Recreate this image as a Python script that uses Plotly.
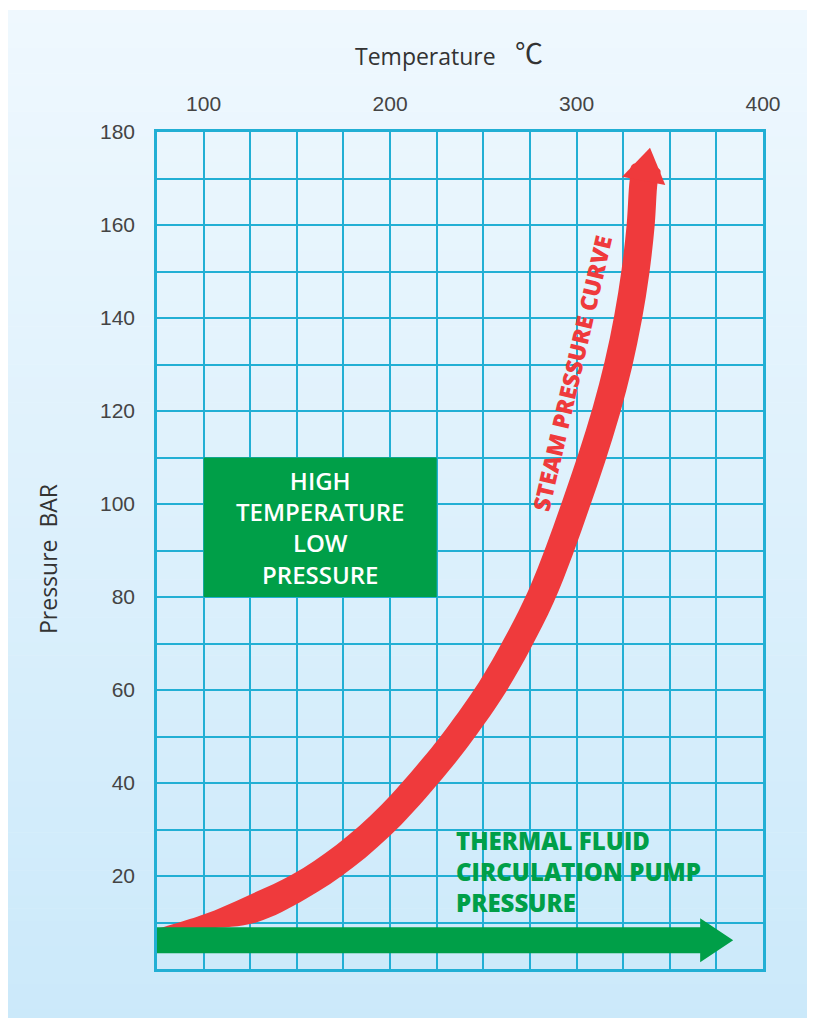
import math
import plotly.graph_objects as go

# ---------------- data ----------------
temp_ticks = [100, 200, 300, 400]
pressure_ticks = [20, 40, 60, 80, 100, 120, 140, 160, 180]

# steam pressure curve (centre line), temperature in C, pressure in bar
steam_temp = [75, 100.7, 126, 151.2, 175.8, 200.5, 225.2, 236.4, 253.9, 268.3, 280.8,
              290.8, 299.7, 308.2, 315.9, 322.4, 327.6, 331.6, 334.4, 336.0]
steam_pressure = [8.6, 10.2, 12.9, 17.7, 24.3, 33.1, 44.3, 50, 60, 70, 80,
                  90, 100, 110, 120, 130, 140, 150, 160, 169.5]
steam_tip = (339.4, 176.6)

# thermal fluid circulation pump pressure (horizontal arrow)
pump_temp = [75, 384]
pump_pressure = 6.2

# high temperature / low pressure region
region_temp = [100, 225]
region_pressure = [80, 110]

region_lines = ["HIGH", "TEMPERATURE", "LOW", "PRESSURE"]
pump_lines = ["THERMAL FLUID", "CIRCULATION PUMP", "PRESSURE"]

# ---------------- layout geometry (page px -> figure px) ----------------
OFF = 8  # default body margin of the html page
FW, FH = 815 - 2 * OFF, 1026 - 2 * OFF
L, R, T, B = 157 - OFF, 763 - OFF, 132 - OFF, 969 - OFF
PW, PH = R - L, B - T
X0, X1 = 75, 400
Y0, Y1 = 0, 180

GRID = "#22afd4"
RED = "#ef3a3c"
GREEN = "#009f48"
TXT = "#333333"


def tx(t):
    return L + (t - X0) / (X1 - X0) * PW


def ty(p):
    return B - (p - Y0) / (Y1 - Y0) * PH


def itx(px):
    return X0 + (px - L) / PW * (X1 - X0)


def ity(py):
    return Y0 + (B - py) / PH * (Y1 - Y0)


def xp(page_x):
    return (page_x - OFF - L) / PW


def yp(page_y):
    return (B - (page_y - OFF)) / PH


# ---------------- steam band polygon ----------------
P = [(tx(t), ty(p)) for t, p in zip(steam_temp, steam_pressure)]
bx, by = P[-1]
tpx, tpy = tx(steam_tip[0]), ty(steam_tip[1])
dx, dy = tpx - bx, tpy - by
ln = math.hypot(dx, dy)
ux, uy = dx / ln, dy / ln
# extend the shaft a little inside the arrow head so its end corners stay hidden
C = P + [(bx + ux * 14, by + uy * 14)]
n = len(C)
s = [0.0]
for i in range(1, n):
    s.append(s[-1] + math.hypot(C[i][0] - C[i - 1][0], C[i][1] - C[i - 1][1]))
BAND = 28
upper, lower = [], []
for i in range(n):
    a = C[max(i - 1, 0)]
    b = C[min(i + 1, n - 1)]
    ddx, ddy = b[0] - a[0], b[1] - a[1]
    dl = math.hypot(ddx, ddy)
    nx, ny = ddy / dl, -ddx / dl
    w = BAND * min(1.0, s[i] / 95.0) / 2
    upper.append((C[i][0] + nx * w, C[i][1] + ny * w))
    lower.append((C[i][0] - nx * w, C[i][1] - ny * w))
poly = upper + lower[::-1] + [upper[0]]
band_x = [itx(q[0]) for q in poly]
band_y = [ity(q[1]) for q in poly]

# arrow head
nx, ny = -uy, ux
hw = 22
head = [(bx + nx * hw, by + ny * hw), (tpx, tpy), (bx - nx * hw, by - ny * hw), (bx + nx * hw, by + ny * hw)]
head_x = [itx(q[0]) for q in head]
head_y = [ity(q[1]) for q in head]

# ---------------- pump arrow polygon ----------------
gy = ty(pump_pressure)
gx0 = tx(pump_temp[0])
gtip = tx(pump_temp[1])
hl, sh, hh = 33, 13, 22
g = [(gx0, gy - sh), (gtip - hl, gy - sh), (gtip - hl, gy - hh), (gtip, gy),
     (gtip - hl, gy + hh), (gtip - hl, gy + sh), (gx0, gy + sh), (gx0, gy - sh)]
green_x = [itx(q[0]) for q in g]
green_y = [ity(q[1]) for q in g]

fig = go.Figure()
fig.add_trace(go.Scatter(x=band_x, y=band_y, mode="lines", fill="toself", fillcolor=RED,
                         line=dict(width=0, color=RED, shape="spline", smoothing=1.0),
                         hoverinfo="skip", showlegend=False))
fig.add_trace(go.Scatter(x=head_x, y=head_y, mode="lines", fill="toself", fillcolor=RED,
                         line=dict(width=0, color=RED), hoverinfo="skip", showlegend=False))
fig.add_trace(go.Scatter(x=green_x, y=green_y, mode="lines", fill="toself", fillcolor=GREEN,
                         line=dict(width=0, color=GREEN), hoverinfo="skip", showlegend=False))

# ---------------- background gradient ----------------
shapes = []
top_c = (239, 248, 254)
bot_c = (203, 233, 250)
gx_l, gx_r, gy_t, gy_b = 7, 812, 10, 1022  # page px
nb = 80
for i in range(nb):
    f = (i + 0.5) / nb
    c = tuple(round(top_c[k] + (bot_c[k] - top_c[k]) * f) for k in range(3))
    y_a = gy_t + (gy_b - gy_t) * i / nb
    y_b = gy_t + (gy_b - gy_t) * (i + 1) / nb + 0.6
    shapes.append(dict(type="rect", xref="paper", yref="paper", layer="below",
                       x0=xp(gx_l), x1=xp(gx_r), y0=yp(y_b), y1=yp(y_a),
                       fillcolor="rgb(%d,%d,%d)" % c, line=dict(width=0)))

shapes.append(dict(type="rect", xref="x", yref="y", layer="above",
                   x0=region_temp[0], x1=region_temp[1], y0=region_pressure[0], y1=region_pressure[1],
                   fillcolor=GREEN, line=dict(width=0)))

annotations = [
    dict(xref="x", yref="paper", x=(region_temp[0] + region_temp[1]) / 2,
         y=yp(527.5), xanchor="center", yanchor="middle",
         text="<br>".join(region_lines), showarrow=False, align="center",
         font=dict(family="Open Sans", size=24, color="white", weight=600)),
    dict(xref="paper", yref="paper", x=xp(454), y=yp(871), xanchor="left", yanchor="middle",
         text="<br>".join(pump_lines), showarrow=False, align="left",
         font=dict(family="Open Sans", size=24, color=GREEN, weight=800)),
    dict(xref="paper", yref="paper", x=xp(572), y=yp(373), xanchor="center", yanchor="middle",
         textangle=-77, text="STEAM PRESSURE CURVE", showarrow=False,
         font=dict(family="Open Sans", size=23, color=RED, weight=800)),
    dict(xref="paper", yref="paper", x=xp(425), y=yp(56), xanchor="center", yanchor="middle",
         text="Temperature", showarrow=False,
         font=dict(family="Open Sans", size=23, color=TXT)),
    dict(xref="paper", yref="paper", x=xp(529), y=yp(52), xanchor="center", yanchor="middle",
         text="℃", showarrow=False,
         font=dict(family="Noto Sans CJK SC", size=28, color=TXT)),
    dict(xref="paper", yref="paper", x=xp(48), y=yp(559), xanchor="center", yanchor="middle",
         text="Pressure  BAR", textangle=-90, showarrow=False,
         font=dict(family="Open Sans", size=23, color=TXT)),
]

axis_common = dict(showline=True, mirror=True, linecolor=GRID, linewidth=2.5,
                   showgrid=True, gridcolor=GRID, gridwidth=2, zeroline=False,
                   ticks="", tickfont=dict(family="Liberation Sans", size=21, color="#444444"))

fig.update_layout(
    width=FW, height=FH,
    margin=dict(l=L, r=FW - R, t=T, b=FH - B, pad=0),
    paper_bgcolor="white", plot_bgcolor="rgba(0,0,0,0)",
    showlegend=False,
    shapes=shapes, annotations=annotations,
    xaxis=dict(range=[X0, X1], side="top", tickmode="array", tickvals=temp_ticks,
               ticktext=[str(v) for v in temp_ticks], ticklabelstandoff=10,
               minor=dict(dtick=25, tick0=0, showgrid=True, gridcolor=GRID, gridwidth=2),
               **axis_common),
    yaxis=dict(range=[Y0, Y1], tickmode="array", tickvals=pressure_ticks,
               ticktext=[str(v) for v in pressure_ticks], ticklabelstandoff=15,
               minor=dict(dtick=10, tick0=0, showgrid=True, gridcolor=GRID, gridwidth=2),
               **axis_common),
)

fig.write_html("out.html")
